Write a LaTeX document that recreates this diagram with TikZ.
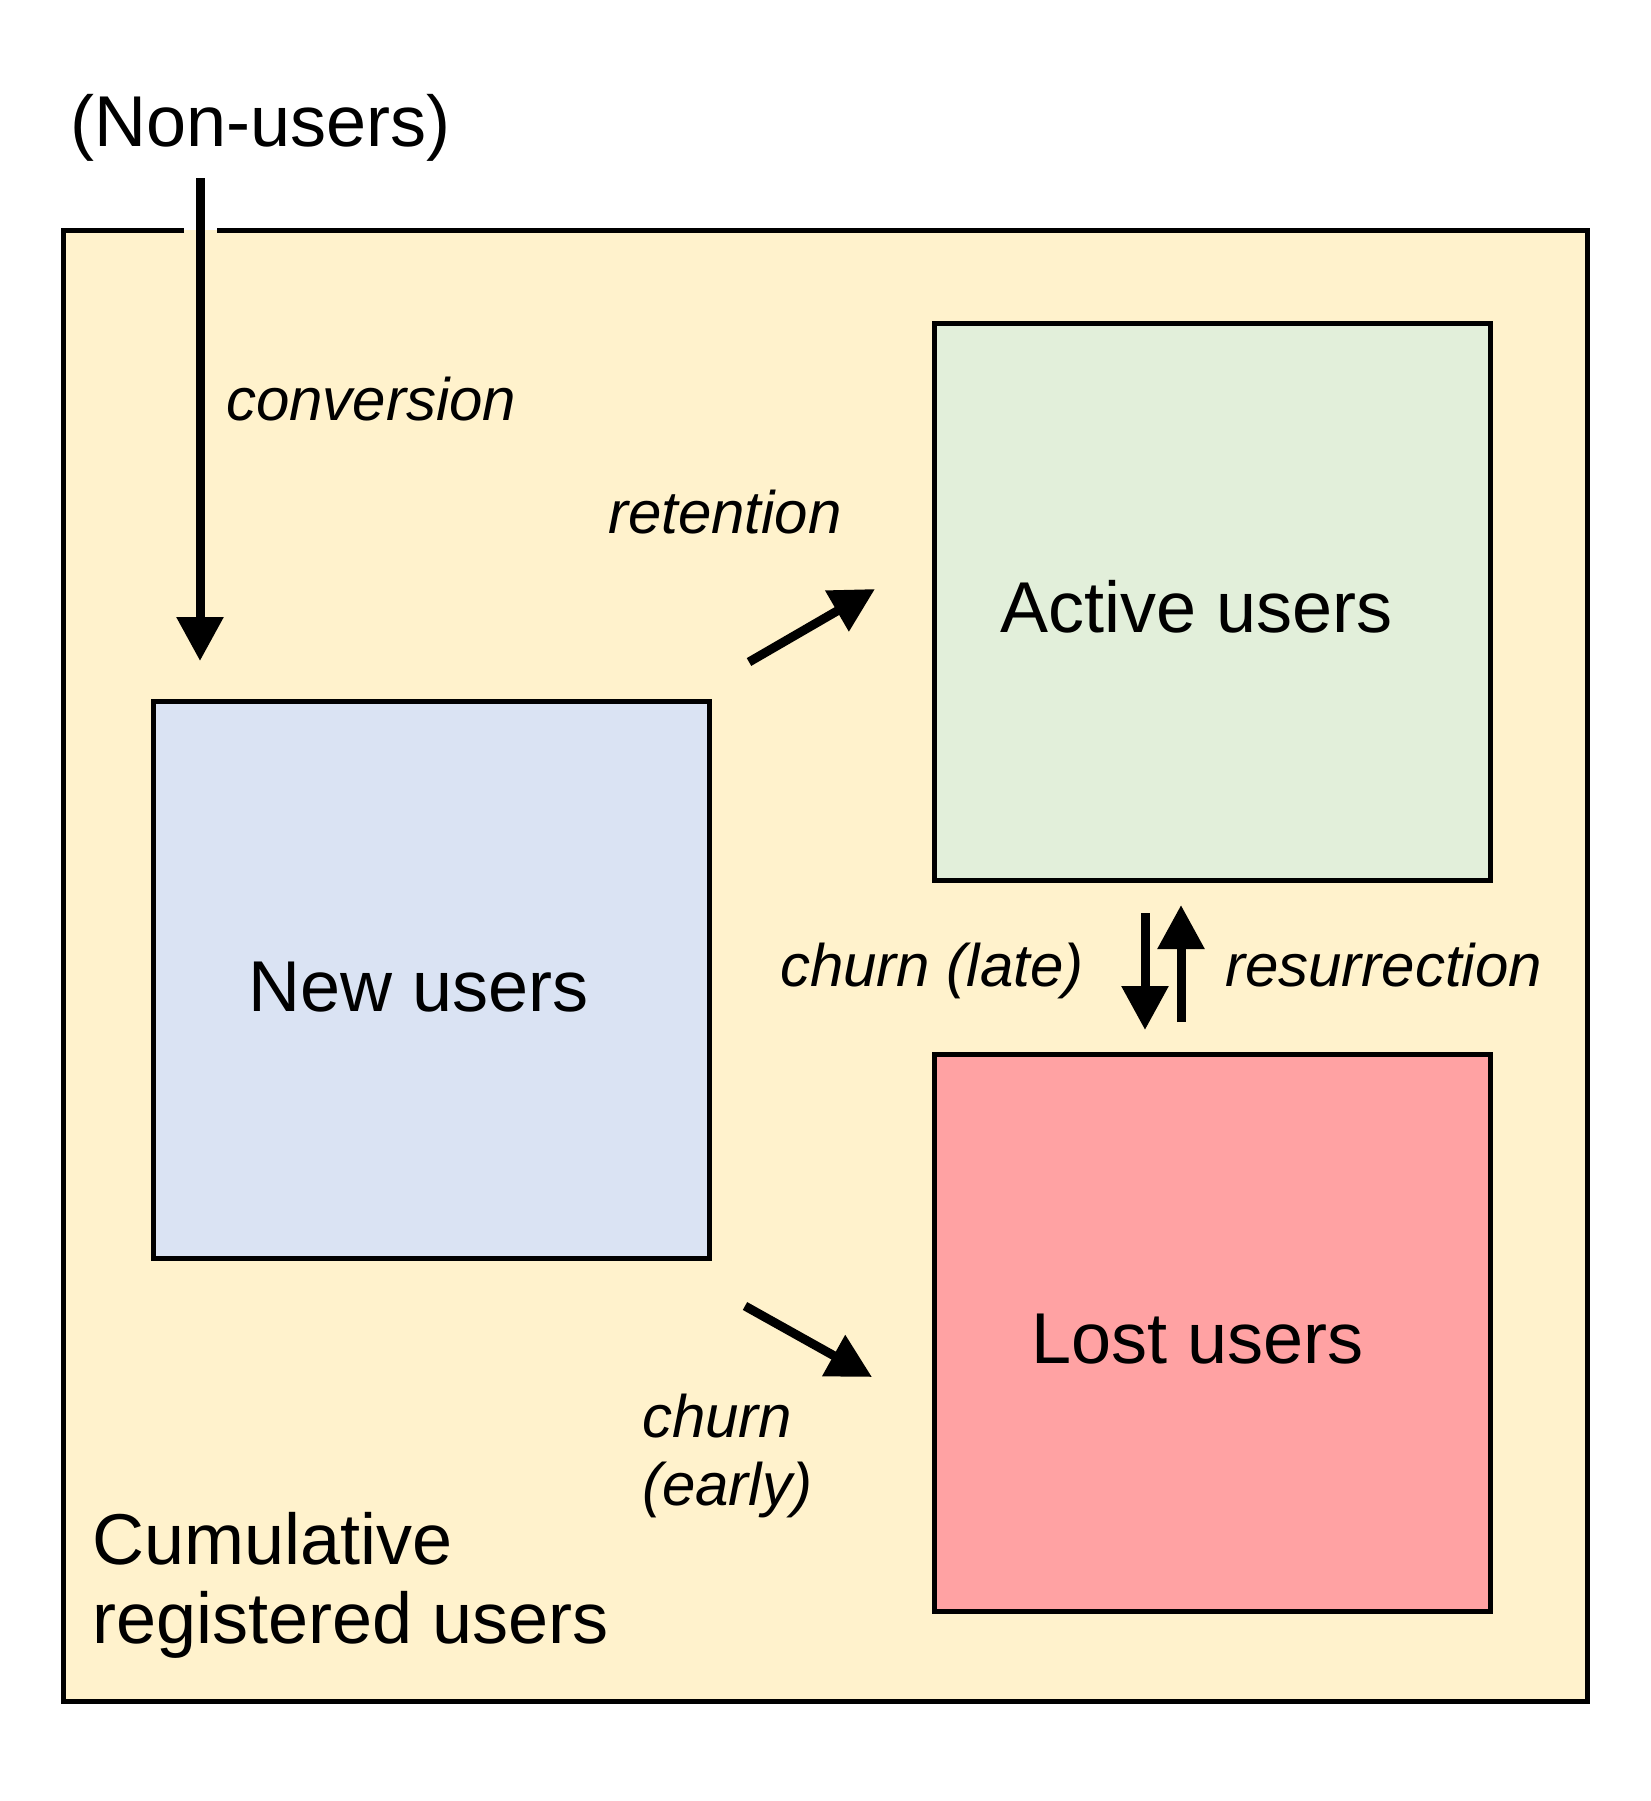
\documentclass[tikz,border=0pt]{standalone}
\usepackage{fontspec}
\setmainfont{Liberation Sans}
\usetikzlibrary{arrows.meta}
\definecolor{outerfill}{HTML}{FFF2CC}
\definecolor{newfill}{HTML}{DAE3F3}
\definecolor{activefill}{HTML}{E2EFDA}
\definecolor{lostfill}{HTML}{FFA2A3}
\tikzset{
  boxstyle/.style={draw=black, line width=5pt, minimum width=556pt, minimum height=557pt, inner sep=0pt, outer sep=0pt, shape=rectangle},
  bigtext/.style={font=\fontsize{72}{79}\selectfont, inner sep=0pt, anchor=base west},
  lbltext/.style={font=\fontsize{60}{68}\selectfont\itshape, inner sep=0pt, anchor=base west},
  flow/.style={line width=9pt, -{Triangle[width=45pt,length=44pt]}},
}
\begin{document}
\begin{tikzpicture}[x=1pt, y=-1pt]
  \useasboundingbox (0,0) rectangle (1650,1801);
  % outer container
  \fill[outerfill] (63,230) rectangle (1587,1701);
  \coordinate (gapL) at (184,230);
  \coordinate (gapR) at (217,230);
  \draw[line width=5pt, line join=miter] (gapL) -- (63,230) -- (63,1701) -- (1587,1701) -- (1587,230) -- (gapR);
  \node[bigtext, align=left] (cumul) at (92,1564) {\begin{tabular}[t]{@{}l@{}}Cumulative\\registered users\end{tabular}};

  % boxes
  \node[boxstyle, fill=newfill] (new) at (431,979.5) {};
  \node[boxstyle, fill=activefill] (active) at (1212,601.5) {};
  \node[boxstyle, fill=lostfill] (lost) at (1212,1332.5) {};

  \node[bigtext] (newlbl) at (248,1011) {New users};
  \node[bigtext] (activelbl) at (1000,632) {Active users};
  \node[bigtext] (lostlbl) at (1031,1363) {Lost users};

  % non-users and conversion
  \node[bigtext] (nonusers) at (70,146) {(Non-users)};
  \coordinate (convS) at (200,178);
  \coordinate (convE) at (200,661);
  \draw[flow] (convS) -- (convE);
  \node[lbltext] (convlbl) at (226,420) {conversion};

  % retention
  \coordinate (retS) at (749,662);
  \coordinate (retE) at (875,589);
  \draw[flow] (retS) -- (retE);
  \node[lbltext] (retlbl) at (608,533) {retention};

  % churn early
  \coordinate (ceS) at (745,1306);
  \coordinate (ceE) at (872,1377);
  \draw[flow] (ceS) -- (ceE);
  \node[lbltext] (celbl) at (642,1437) {\begin{tabular}[t]{@{}l@{}}churn\\(early)\end{tabular}};

  % churn late / resurrection
  \coordinate (clS) at (1145,913);
  \coordinate (clE) at (1145,1030);
  \draw[flow] (clS) -- (clE);
  \coordinate (rsS) at (1181,1022);
  \coordinate (rsE) at (1181,905);
  \draw[flow] (rsS) -- (rsE);
  \node[lbltext] (cllbl) at (780,986) {churn (late)};
  \node[lbltext] (rslbl) at (1225,986) {resurrection};
\end{tikzpicture}
\end{document}
